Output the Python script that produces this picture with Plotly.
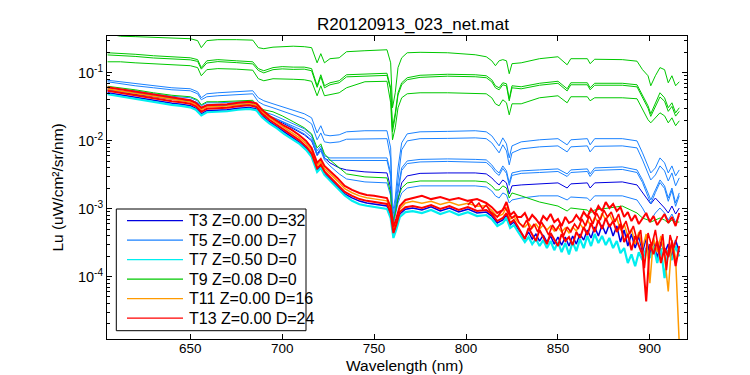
import plotly.graph_objects as go

# ---------------- data ----------------
# wavelength grid for the smoother spectra (nm)
W = [605, 612, 620, 630, 640, 650, 654, 656, 659, 665, 675, 684, 687, 690, 695,
     700, 706, 712, 716, 719, 721, 723, 726, 731, 735, 745, 757, 759, 760, 761.5,
     763, 765, 768, 775, 790, 805, 811, 814, 816, 818, 820, 822, 823.5, 825, 830,
     840, 850, 855, 857, 866, 867.5, 870, 885, 893, 896, 899, 900.5, 903, 905.5, 908,
     910, 912, 914, 916]

# wavelength grid for the noisy bottom band (nm)
WB = [605, 610, 615, 620, 625, 630, 635, 640, 645, 650, 653, 656, 659, 664, 670,
      676, 682, 686, 689, 693, 697, 701, 705, 709, 713, 716, 719, 721, 723, 726,
      730, 734, 738, 742, 746, 750, 754, 757, 759, 760.5, 762, 764, 767, 771, 776,
      781, 786, 791, 796, 801, 806, 811, 814, 817, 820, 822, 824, 826, 828,
      830, 832, 834, 836, 838, 840, 842, 844, 846, 848, 850, 852, 854, 856, 858,
      860, 862, 864, 866, 868, 870, 872, 874, 876, 878, 880, 882, 884, 886, 888,
      890, 892, 894, 896, 898, 900, 902, 904, 906, 908, 910, 912, 914, 916]

# wavelength grid of a third T13 cast (odd nm)
WR = [801, 803, 805, 807, 809, 811, 813, 815, 817, 819, 821, 823, 825, 827,
      829, 831, 833, 835, 837, 839, 841, 843, 845, 847, 849, 851, 853, 855, 857,
      859, 861, 863, 865, 867, 869, 871, 873, 875, 877, 879, 881, 883, 885, 887,
      889, 891, 893, 895, 897, 899, 901, 903, 905, 907, 909, 911, 913, 915]

# T9 (green) spectra on W
t9_a = [0.376, 0.345, 0.340, 0.334, 0.322, 0.317, 0.297, 0.234, 0.297, 0.307,
        0.307, 0.302, 0.234, 0.226, 0.238, 0.242, 0.246, 0.242, 0.234, 0.140,
        0.191, 0.140, 0.161, 0.166, 0.204, 0.211, 0.218, 0.140, 0.0305, 0.0507,
        0.119, 0.166, 0.197, 0.200, 0.197, 0.184, 0.172, 0.150, 0.127, 0.150,
        0.156, 0.150, 0.0967, 0.136, 0.140, 0.161, 0.172, 0.131, 0.161, 0.161,
        0.136, 0.158, 0.156, 0.148, 0.111, 0.0903, 0.0643, 0.0903, 0.119, 0.111,
        0.0712, 0.0903, 0.0643, 0.0737]
t9_b = [0.197, 0.194, 0.187, 0.178, 0.172, 0.166, 0.156, 0.119, 0.150, 0.156,
        0.150, 0.145, 0.115, 0.107, 0.119, 0.123, 0.121, 0.121, 0.115, 0.0643,
        0.0934, 0.0643, 0.0712, 0.0762, 0.0934, 0.0967, 0.0983, 0.0601, 0.0155, 0.0257,
        0.0507, 0.0712, 0.0844, 0.0918, 0.0950, 0.0934, 0.0903, 0.0788, 0.0643, 0.0601,
        0.0712, 0.0688, 0.0414, 0.0643, 0.0622, 0.0700, 0.0749, 0.0581, 0.0712, 0.0712,
        0.0601, 0.0700, 0.0700, 0.0665, 0.0458, 0.0326, 0.0249, 0.0349, 0.0507, 0.0428,
        0.0305, 0.0361, 0.0257, 0.0305]
t9_c = [0.183, 0.180, 0.174, 0.165, 0.161, 0.155, 0.147, 0.113, 0.139, 0.146,
        0.141, 0.135, 0.108, 0.0995, 0.111, 0.114, 0.112, 0.113, 0.107, 0.0610,
        0.0870, 0.0600, 0.0665, 0.0712, 0.0870, 0.0900, 0.0915, 0.0560, 0.0135, 0.0230,
        0.0470, 0.0665, 0.0790, 0.0855, 0.0890, 0.0873, 0.0845, 0.0735, 0.0600, 0.0561,
        0.0665, 0.0640, 0.0385, 0.0600, 0.0580, 0.0655, 0.0700, 0.0540, 0.0665, 0.0665,
        0.0562, 0.0655, 0.0655, 0.0620, 0.0425, 0.0300, 0.0228, 0.0320, 0.0440, 0.0380,
        0.0270, 0.0320, 0.0230, 0.0270]
t9_d = [0.145, 0.145, 0.140, 0.136, 0.131, 0.127, 0.119, 0.0903, 0.111, 0.115,
        0.113, 0.109, 0.0816, 0.0762, 0.0816, 0.0816, 0.0802, 0.0788, 0.0749, 0.0458,
        0.0643, 0.0458, 0.0474, 0.0507, 0.0601, 0.0737, 0.0749, 0.0361, 0.0103, 0.0155,
        0.0305, 0.0428, 0.0490, 0.0507, 0.0507, 0.0498, 0.0490, 0.0428, 0.0349, 0.0326,
        0.0400, 0.0361, 0.0240, 0.0349, 0.0349, 0.0428, 0.0458, 0.0361, 0.0443, 0.0443,
        0.0387, 0.0428, 0.0428, 0.0414, 0.0285, 0.0203, 0.0183, 0.0217, 0.0257, 0.0232,
        0.0183, 0.0217, 0.0166, 0.0196]
t9_e = [0.0632, 0.0601, 0.0561, 0.0507, 0.0466, 0.0443, 0.0400, 0.0337, 0.0374, 0.0374,
        0.0387, 0.0393, 0.0315, 0.0285, 0.0266, 0.0232, 0.0190, 0.0155, 0.0126, 0.00783,
        0.00898, 0.00639, 0.00521, 0.00397, 0.00324, 0.00293, 0.00283, 0.00170, 0.000614, 0.000861,
        0.00143, 0.00201, 0.00239, 0.00255, 0.00255, 0.00255, 0.00247, 0.00216, 0.00188, 0.00188,
        0.00216, 0.00201, 0.00143, 0.00170, 0.00154, 0.00125, 0.00109, 0.000921, 0.00102, 0.000953,
        0.000861, 0.000953, 0.00109, 0.000861, 0.000727, 0.000679, 0.000634, 0.000679, 0.000727, 0.000679,
        0.000614, 0.000679, 0.000634, 0.000634]

# T5 (blue) spectra on W
t5_a = [0.0775, 0.0737, 0.0688, 0.0643, 0.0601, 0.0581, 0.0524, 0.0428, 0.0490, 0.0507,
        0.0524, 0.0543, 0.0428, 0.0387, 0.0349, 0.0315, 0.0285, 0.0249, 0.0217, 0.0130,
        0.0166, 0.0122, 0.0118, 0.0122, 0.0135, 0.0140, 0.0140, 0.00783, 0.000861, 0.00143,
        0.00397, 0.00929, 0.0126, 0.0135, 0.0137, 0.0140, 0.0135, 0.0118, 0.00993, 0.00838,
        0.0110, 0.00898, 0.00557, 0.00838, 0.00960, 0.0103, 0.0107, 0.00868, 0.0103, 0.0107,
        0.00868, 0.0107, 0.0107, 0.00993, 0.00661, 0.00425, 0.00335, 0.00397, 0.00557, 0.00471,
        0.00335, 0.00425, 0.00303, 0.00371]
t5_b = [0.0737, 0.0688, 0.0643, 0.0601, 0.0561, 0.0543, 0.0490, 0.0400, 0.0443, 0.0458,
        0.0474, 0.0490, 0.0374, 0.0337, 0.0305, 0.0275, 0.0240, 0.0210, 0.0177, 0.0103,
        0.0130, 0.00960, 0.00929, 0.00960, 0.0105, 0.0107, 0.0107, 0.00557, 0.000727, 0.00121,
        0.00283, 0.00732, 0.00993, 0.0107, 0.0108, 0.0110, 0.0107, 0.00929, 0.00783, 0.00661,
        0.00868, 0.00708, 0.00440, 0.00661, 0.00757, 0.00811, 0.00838, 0.00684, 0.00811, 0.00838,
        0.00684, 0.00825, 0.00838, 0.00783, 0.00521, 0.00335, 0.00264, 0.00313, 0.00425, 0.00359,
        0.00255, 0.00335, 0.00216, 0.00283]
t5_c = [0.0601, 0.0571, 0.0543, 0.0490, 0.0450, 0.0428, 0.0387, 0.0326, 0.0361, 0.0361,
        0.0374, 0.0380, 0.0295, 0.0266, 0.0240, 0.0210, 0.0177, 0.0150, 0.0122, 0.00708,
        0.00838, 0.00597, 0.00557, 0.00557, 0.00557, 0.00557, 0.00557, 0.00335, 0.000614, 0.00102,
        0.00201, 0.00397, 0.00503, 0.00530, 0.00539, 0.00530, 0.00521, 0.00440, 0.00371, 0.00335,
        0.00425, 0.00359, 0.00239, 0.00335, 0.00359, 0.00371, 0.00384, 0.00324, 0.00371, 0.00384,
        0.00324, 0.00397, 0.00411, 0.00371, 0.00264, 0.00170, 0.00134, 0.00188, 0.00264, 0.00216,
        0.00143, 0.00201, 0.00121, 0.00170]
t5_d = [0.0560, 0.0532, 0.0505, 0.0455, 0.0418, 0.0398, 0.0360, 0.0302, 0.0335, 0.0335,
        0.0345, 0.0350, 0.0272, 0.0245, 0.0221, 0.0193, 0.0163, 0.0138, 0.0112, 0.00650,
        0.00770, 0.00548, 0.00512, 0.00512, 0.00510, 0.00510, 0.00510, 0.00300, 0.000560, 0.00095,
        0.00180, 0.00365, 0.00460, 0.00486, 0.00495, 0.00488, 0.00478, 0.00405, 0.00340, 0.00308,
        0.00390, 0.00330, 0.00220, 0.00308, 0.00330, 0.00340, 0.00352, 0.00297, 0.00340, 0.00352,
        0.00297, 0.00365, 0.00377, 0.00340, 0.00242, 0.00150, 0.00118, 0.00172, 0.00242, 0.00198,
        0.00128, 0.00185, 0.00108, 0.00155]
t5_e = [0.0561, 0.0533, 0.0507, 0.0458, 0.0421, 0.0400, 0.0361, 0.0305, 0.0337, 0.0337,
        0.0349, 0.0355, 0.0275, 0.0249, 0.0217, 0.0190, 0.0155, 0.0126, 0.0103, 0.00597,
        0.00708, 0.00521, 0.00425, 0.00324, 0.00273, 0.00247, 0.00239, 0.00154, 0.000518, 0.000777,
        0.00121, 0.00170, 0.00201, 0.00216, 0.00216, 0.00216, 0.00208, 0.00182, 0.00154, 0.00143,
        0.00170, 0.00159, 0.00121, 0.00134, 0.00143, 0.00154, 0.00154, 0.00134, 0.00148, 0.00143,
        0.00130, 0.00154, 0.00154, 0.00134, 0.00102, 0.000727, 0.000679, 0.000861, 0.00102, 0.000861,
        0.000679, 0.000832, 0.000634, 0.000777]

# T3 (dark blue) spectrum on W
t3_a = [0.0543, 0.0515, 0.0490, 0.0443, 0.0407, 0.0387, 0.0349, 0.0295, 0.0326, 0.0326,
        0.0337, 0.0349, 0.0266, 0.0240, 0.0210, 0.0183, 0.0150, 0.0122, 0.00993, 0.00618,
        0.00757, 0.00557, 0.00471, 0.00397, 0.00371, 0.00347, 0.00335, 0.00201, 0.000554, 0.000861,
        0.00143, 0.00239, 0.00303, 0.00330, 0.00335, 0.00335, 0.00324, 0.00283, 0.00247, 0.00223,
        0.00264, 0.00239, 0.00164, 0.00216, 0.00223, 0.00231, 0.00239, 0.00201, 0.00231, 0.00239,
        0.00201, 0.00239, 0.00247, 0.00223, 0.00170, 0.00130, 0.00117, 0.00143, 0.00121, 0.00102,
        0.000861, 0.00109, 0.000832, 0.00102]

# bottom band spectra on WB
t3_b = [0.0507, 0.0481, 0.0458, 0.0435, 0.0414, 0.0393, 0.0374, 0.0355, 0.0343, 0.0326,
        0.0300, 0.0248, 0.0276, 0.0280, 0.0285, 0.0300, 0.0309, 0.0294, 0.0233, 0.0190,
        0.0161, 0.0133, 0.0114, 0.00962, 0.00771, 0.00607, 0.00364, 0.00418, 0.00330, 0.00274,
        0.00216, 0.00164, 0.00144, 0.00129, 0.00121, 0.00117, 0.00113, 0.00109, 0.000804, 0.000408,
        0.000536, 0.000831, 0.000981, 0.00102, 0.000953, 0.00106, 0.000921, 0.00102, 0.000890, 0.000981,
        0.000860, 0.000890, 0.000777, 0.000613, 0.000679, 0.000804, 0.000573, 0.000634, 0.000517,
        0.000437, 0.000369, 0.000452, 0.000356, 0.000422, 0.000333, 0.000408, 0.000322, 0.000395, 0.000300,
        0.000382, 0.000290, 0.000382, 0.000281, 0.000395, 0.000300, 0.000422, 0.000344, 0.000484, 0.000369,
        0.000536, 0.000395, 0.000573, 0.000422, 0.000593, 0.000395, 0.000554, 0.000322, 0.000484, 0.000281,
        0.000422, 0.000262, 0.000395, 0.000228, 0.000369, 0.000212, 0.000344, 0.000187, 0.000322, 0.000221,
        0.000300, 0.000198, 0.000344, 0.000228]
t7_a = [0.0482, 0.0457, 0.0435, 0.0414, 0.0393, 0.0374, 0.0355, 0.0337, 0.0326, 0.0310,
        0.0285, 0.0236, 0.0262, 0.0266, 0.0271, 0.0285, 0.0294, 0.0280, 0.0221, 0.0180,
        0.0153, 0.0126, 0.0108, 0.00915, 0.00733, 0.00577, 0.00346, 0.00397, 0.00313, 0.00260,
        0.00205, 0.00156, 0.00130, 0.00116, 0.00110, 0.00105, 0.00102, 0.000988, 0.000727, 0.000369,
        0.000484, 0.000751, 0.000886, 0.000920, 0.000861, 0.000954, 0.000832, 0.000920, 0.000804, 0.000886,
        0.000777, 0.000804, 0.000702, 0.000554, 0.000614, 0.000727, 0.000518, 0.000573, 0.000468,
        0.000395, 0.000322, 0.000382, 0.000300, 0.000356, 0.000281, 0.000344, 0.000262, 0.000333, 0.000244,
        0.000322, 0.000228, 0.000311, 0.000212, 0.000322, 0.000236, 0.000356, 0.000262, 0.000395, 0.000281,
        0.000422, 0.000311, 0.000395, 0.000290, 0.000369, 0.000262, 0.000333, 0.000221, 0.000262, 0.000158,
        0.000212, 0.000142, 0.000228, 0.000175, 0.000262, 0.000187, 0.000281, 0.000158, 0.000262, 0.0000946,
        0.000244, 0.000175, 0.000281, 0.000198]
t11_a = [0.0577, 0.0548, 0.0520, 0.0494, 0.0469, 0.0447, 0.0424, 0.0403, 0.0390, 0.0370,
         0.0340, 0.0287, 0.0312, 0.0318, 0.0323, 0.0340, 0.0352, 0.0334, 0.0268, 0.0219,
         0.0185, 0.0156, 0.0133, 0.0112, 0.00905, 0.00715, 0.00430, 0.00495, 0.00388, 0.00326,
         0.00256, 0.00196, 0.00171, 0.00154, 0.00144, 0.00139, 0.00134, 0.00130, 0.000955, 0.000485,
         0.000638, 0.000985, 0.00121, 0.00128, 0.00120, 0.00128, 0.00115, 0.00125, 0.00112, 0.00120,
         0.00108, 0.00110, 0.000940, 0.000760, 0.000830, 0.00104, 0.000700, 0.000770, 0.000640,
         0.000593, 0.000536, 0.000614, 0.000518, 0.000593, 0.000501, 0.000573, 0.000484, 0.000554, 0.000468,
         0.000536, 0.000452, 0.000518, 0.000437, 0.000536, 0.000468, 0.000593, 0.000501, 0.000679, 0.000554,
         0.000752, 0.000614, 0.000861, 0.000679, 0.000832, 0.000634, 0.000727, 0.000484, 0.000593, 0.000395,
         0.000501, 0.000300, 0.000452, 0.000262, 0.000422, 0.0000800, 0.000369, 0.000229, 0.000395, 0.000198,
         0.0000604, 0.000344, 0.000187, 0.0000100]
t13_a = [0.0612, 0.0581, 0.0552, 0.0524, 0.0498, 0.0474, 0.0450, 0.0428, 0.0414, 0.0393,
         0.0361, 0.0305, 0.0331, 0.0337, 0.0343, 0.0361, 0.0374, 0.0355, 0.0285, 0.0232,
         0.0196, 0.0166, 0.0145, 0.0122, 0.00993, 0.00783, 0.00471, 0.00539, 0.00425, 0.00359,
         0.00283, 0.00216, 0.00188, 0.00170, 0.00159, 0.00154, 0.00148, 0.00143, 0.00105, 0.000536,
         0.000703, 0.00109, 0.00134, 0.00143, 0.00154, 0.00138, 0.00148, 0.00134, 0.00143, 0.00130,
         0.00138, 0.00121, 0.00105, 0.000861, 0.000953, 0.00125, 0.000804, 0.000890, 0.000752,
         0.000752, 0.000861, 0.000656, 0.000804, 0.000703, 0.000593, 0.000777, 0.000679, 0.000832, 0.000634,
         0.000703, 0.000554, 0.000752, 0.000614, 0.000656, 0.000804, 0.000679, 0.000890, 0.000752, 0.000986,
         0.000832, 0.00109, 0.000921, 0.00125, 0.00102, 0.00117, 0.000921, 0.00105, 0.000752, 0.000890,
         0.000656, 0.000804, 0.000593, 0.000727, 0.000861, 0.000634, 0.000777, 0.000573, 0.000703, 0.000832,
         0.000614, 0.000752, 0.000554, 0.000861]
t13_b = [0.0543, 0.0515, 0.0490, 0.0466, 0.0443, 0.0421, 0.0400, 0.0380, 0.0367, 0.0349,
         0.0321, 0.0266, 0.0295, 0.0300, 0.0305, 0.0321, 0.0331, 0.0315, 0.0249, 0.0203,
         0.0172, 0.0142, 0.0122, 0.0103, 0.00825, 0.00650, 0.00390, 0.00447, 0.00353, 0.00293,
         0.00231, 0.00176, 0.00154, 0.00138, 0.00130, 0.00125, 0.00121, 0.00117, 0.000861, 0.000437,
         0.000574, 0.000890, 0.00105, 0.00109, 0.00102, 0.00113, 0.000986, 0.00109, 0.000953, 0.00105,
         0.000921, 0.000953, 0.000832, 0.000656, 0.000727, 0.000861, 0.000614, 0.000679, 0.000554,
         0.000452, 0.000356, 0.000518, 0.000408, 0.000333, 0.000484, 0.000382, 0.000300, 0.000437, 0.000356,
         0.000281, 0.000422, 0.000333, 0.000382, 0.000290, 0.000452, 0.000369, 0.000536, 0.000408, 0.000614,
         0.000452, 0.000679, 0.000501, 0.000727, 0.000536, 0.000656, 0.000452, 0.000593, 0.000322, 0.000422,
         0.000244, 0.000395, 0.000281, 0.000206, 0.0000430, 0.000300, 0.000213, 0.000333, 0.000158, 0.000262,
         0.000193, 0.000322, 0.000142, 0.000281]
t13_c = [0.00113, 0.00129, 0.00105, 0.00121, 0.000986, 0.00113, 0.000921, 0.000832, 0.000752, 0.000890,
         0.00105, 0.000861, 0.000727, 0.000804,
         0.000614, 0.000536, 0.000679, 0.000484, 0.000593, 0.000452, 0.000634, 0.000518, 0.000408, 0.000573,
         0.000468, 0.000593, 0.000395, 0.000536, 0.000452, 0.000593, 0.000501, 0.000703, 0.000554, 0.000777,
         0.000593, 0.000861, 0.000679, 0.000953, 0.000752, 0.000890, 0.000634, 0.000832, 0.000501, 0.000656,
         0.000422, 0.000554, 0.000344, 0.000484, 0.000133, 0.000437, 0.000281, 0.000484, 0.000221, 0.000422,
         0.000124, 0.000408, 0.000262, 0.000395]

legend_labels = ["T3 Z=0.00 D=32", "T5 Z=0.00 D=7", "T7 Z=0.50 D=0",
                 "T9 Z=0.08 D=0", "T11 Z=0.00 D=16", "T13 Z=0.00 D=24"]
y_tick_vals = [1e-4, 1e-3, 1e-2, 1e-1]
y_tick_text = ["10<sup>-4</sup>", "10<sup>-3</sup>", "10<sup>-2</sup>", "10<sup>-1</sup>"]
x_tick_vals = [650, 700, 750, 800, 850, 900]

# ---------------- styling ----------------
C_T3 = "#0000e0"
C_T5 = "#1a82ff"
C_T7 = "#00eef0"
C_T9 = "#00c800"
C_T11 = "#ff9a00"
C_T13 = "#ff0000"
legend_colors = [C_T3, C_T5, C_T7, C_T9, C_T11, C_T13]

for arr in (t9_a, t9_b, t9_c, t9_d, t9_e, t5_a, t5_b, t5_c, t5_d, t5_e, t3_a):
    assert len(arr) == len(W), len(arr)
for arr in (t3_b, t7_a, t11_a, t13_a, t13_b):
    assert len(arr) == len(WB), len(arr)
assert len(t13_c) == len(WR), len(t13_c)

FW, FH = 750, 375
ML, MR, MT, MB = 99, 71, 28, 44
PW, PH = FW - ML - MR, FH - MT - MB


def px(x):
    return (x - ML) / PW


def py(y):
    return (FH - MB - y) / PH


fig = go.Figure()


def add(x, y, color, width=1.0):
    fig.add_trace(go.Scatter(x=x, y=y, mode="lines",
                             line=dict(color=color, width=width),
                             showlegend=False, hoverinfo="skip"))


add(W, t3_a, C_T3)
add(WB, t3_b, C_T3, 1.5)
for s in (t5_a, t5_b, t5_c, t5_d, t5_e):
    add(W, s, C_T5)
add(WB, t7_a, C_T7, 2.2)
for s in (t9_a, t9_b, t9_c, t9_d, t9_e):
    add(W, s, C_T9)
add(WB, t11_a, C_T11, 1.5)
add(WB, t13_a, C_T13, 2.0)
add(WB, t13_b, C_T13, 2.0)
add(WR, t13_c, C_T13, 1.6)

# manual MATLAB-style legend box
shapes = [dict(type="rect", xref="paper", yref="paper",
               x0=px(108.3), x1=px(298), y0=py(322.7), y1=py(201),
               fillcolor="white", line=dict(color="black", width=1), layer="above")]
annotations = []
for i, (lab, col) in enumerate(zip(legend_labels, legend_colors)):
    yy = 212.7 + i * 19.5
    shapes.append(dict(type="line", xref="paper", yref="paper",
                       x0=px(119), x1=px(175), y0=py(yy), y1=py(yy),
                       line=dict(color=col, width=1.2), layer="above"))
    annotations.append(dict(text=lab, xref="paper", yref="paper",
                            x=px(179), y=py(yy), xanchor="left", yanchor="middle",
                            showarrow=False, font=dict(size=16, color="black")))

# axis titles
annotations.append(dict(text="Wavelength (nm)", xref="paper", yref="paper",
                        x=px(396), y=py(357), xanchor="center", yanchor="middle",
                        showarrow=False, font=dict(size=15.5, color="black")))
annotations.append(dict(text="Lu (uW/cm²/sr/nm)", xref="paper", yref="paper",
                        x=px(50), y=py(179.6), xanchor="center", yanchor="middle",
                        textangle=-90, showarrow=False, font=dict(size=15.5, color="black")))

minor_vals = [m * 10.0 ** e for e in range(-5, 0) for m in range(2, 10)]

fig.update_layout(
    width=FW, height=FH,
    margin=dict(l=ML, r=MR, t=MT, b=MB, pad=0),
    paper_bgcolor="white", plot_bgcolor="white",
    font=dict(family="Liberation Sans, Arial, Helvetica, sans-serif", color="black"),
    title=dict(text="R20120913_023_net.mat", x=405 / FW, xanchor="center",
               y=1 - 16 / FH, yanchor="middle", yref="container",
               font=dict(size=17, color="black")),
    showlegend=False,
    shapes=shapes,
    annotations=annotations,
    xaxis=dict(range=[604.7, 920.2], tickmode="array", tickvals=x_tick_vals,
               ticks="inside", ticklen=5, tickcolor="black", tickwidth=1,
               showline=True, linecolor="black", linewidth=1, mirror="allticks",
               showgrid=False, zeroline=False, tickfont=dict(size=13.5),
               ticklabelstandoff=-3),
    yaxis=dict(type="log", range=[-4.92, -0.459], tickmode="array",
               tickvals=y_tick_vals, ticktext=y_tick_text,
               ticks="inside", ticklen=5, tickcolor="black", tickwidth=1,
               showline=True, linecolor="black", linewidth=1, mirror="allticks",
               showgrid=False, zeroline=False, tickfont=dict(size=14.5),
               minor=dict(tickmode="array", tickvals=minor_vals, ticks="inside",
                          ticklen=3, tickcolor="black", showgrid=False)),
)

fig.write_html("out.html", config={"displayModeBar": False})
